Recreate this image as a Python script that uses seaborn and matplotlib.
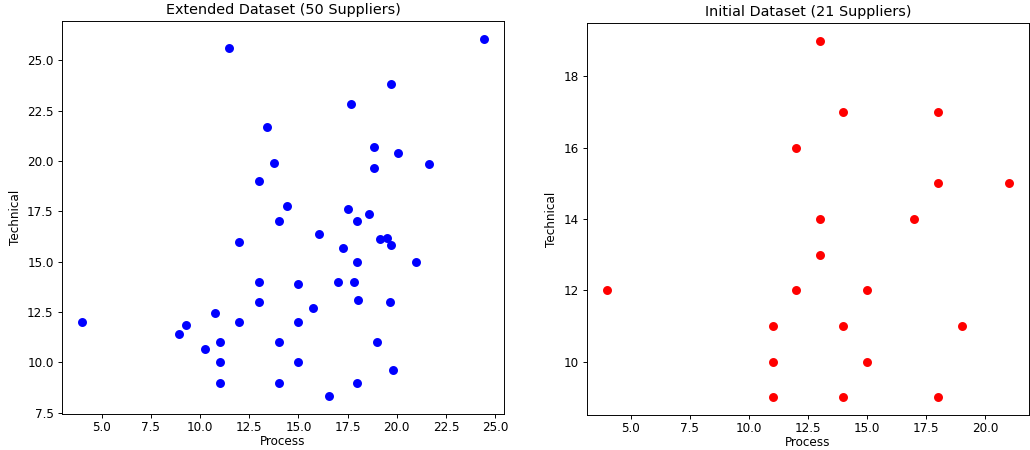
import pandas as pd
import matplotlib
matplotlib.use("Agg")
import matplotlib.pyplot as plt
import seaborn as sns

# initial dataset
init_process = [13, 14, 18, 12, 18, 21, 13, 17, 13, 4, 12, 15, 11, 14, 19, 11, 15, 11, 14, 18]
init_technical = [19, 17, 17, 16, 15, 15, 14, 14, 13, 12, 12, 12, 11, 11, 11, 10, 10, 9, 9, 9]

# additional suppliers in the extended dataset
new_process = [11.47, 24.43, 19.73, 17.65, 13.39, 18.82, 20.07, 13.78, 21.66, 18.82,
               14.44, 17.5, 18.6, 16.06, 19.14, 19.51, 19.7, 17.27, 14.98, 17.85,
               18.05, 19.65, 15.76, 10.74, 9.29, 8.93, 10.27, 19.81, 16.54]
new_technical = [25.6, 26.06, 23.82, 22.82, 21.67, 20.7, 20.41, 19.9, 19.85, 19.65,
                 17.75, 17.62, 17.37, 16.36, 16.11, 16.16, 15.84, 15.68, 13.9, 14.0,
                 13.1, 13.0, 12.68, 12.47, 11.87, 11.4, 10.65, 9.64, 8.33]

initial = pd.DataFrame({"Process": init_process, "Technical": init_technical})
extended = pd.concat([initial, pd.DataFrame({"Process": new_process, "Technical": new_technical})],
                     ignore_index=True)

dpi = 86
fig = plt.figure(figsize=(1030 / dpi, 450 / dpi), dpi=dpi)
ax1 = fig.add_axes([0.0602, 0.080, 0.4291, 0.8733])
ax2 = fig.add_axes([0.5699, 0.0778, 0.4291, 0.8711])

sns.scatterplot(data=extended, x="Process", y="Technical", color="blue", s=36,
                edgecolor="face", linewidth=1.5, ax=ax1)
ax1.set_title("Extended Dataset (50 Suppliers)")

sns.scatterplot(data=initial, x="Process", y="Technical", color="red", s=36,
                edgecolor="face", linewidth=1.5, ax=ax2)
ax2.set_title("Initial Dataset (21 Suppliers)")

for ax in (ax1, ax2):
    ax.set_xlabel("Process", labelpad=1)
    ax.tick_params(axis="x", pad=2.5)

plt.savefig("out.png", dpi=dpi)
plt.close()
